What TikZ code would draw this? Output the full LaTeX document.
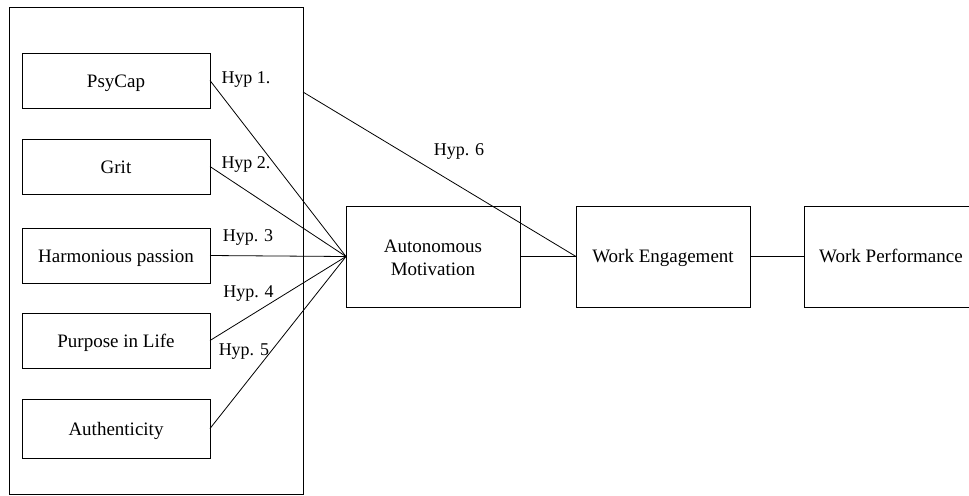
\documentclass[tikz,border=0pt]{standalone}
\usepackage{fontspec}
\setmainfont{Liberation Serif}
\begin{document}
\begin{tikzpicture}[x=0.5pt, y=-0.5pt]
\tikzset{ line width=0.5pt, inner sep=0pt, outer sep=0pt,
  box/.style={draw, minimum width=94pt, minimum height=27.5pt, text height=7pt, text depth=0.5pt, font=\fontsize{9.5}{11}\selectfont},
  bigbox/.style={draw, minimum width=87pt, minimum height=50.5pt, text height=6.5pt, text depth=0.5pt, font=\fontsize{9.5}{11.5}\selectfont},
  hyp/.style={font=\fontsize{9}{11}\selectfont},
}

\useasboundingbox (0,0) rectangle (969,495);
%\draw [lightgray, dashed](0,0) grid[step=50] (969,495);

\node [draw, minimum width=147pt, minimum height=243.5pt] (G) at (156,250.5) {};

\node [box] (PC) at (116,80.5)  {PsyCap};
\node [box] (GR) at (116,166.5) {Grit};
\node [box] (HP) at (116,255.5) {Harmonious passion};
\node [box] (PL) at (116,340.5) {Purpose in Life};
\node [box, minimum height=29.5pt] (AU) at (116,428.5) {Authenticity};

\node [bigbox, text height=19pt, align=center] (AM) at (433,256.5) {Autonomous\\Motivation};
\node [bigbox] (WE) at (663,256.5) {Work Engagement};
% right side is cut off by the page
\node [bigbox, draw=none] (WP) at (891,256.5) {Work Performance};
\draw (WP.north east) -- (WP.north west) -- (WP.south west) -- (WP.south east);

\coordinate (H6) at (303,92);

\draw (PC.east) -- (AM.west);
\draw (GR.east) -- (AM.west);
\draw (HP.east) -- (AM.west);
\draw (PL.east) -- (AM.west);
\draw (AU.east) -- (AM.west);

\draw (H6) -- (WE.west);
\draw (AM) -- (WE);
\draw (WE) -- (WP);

\node [hyp] (L1) at (246,79)    {Hyp 1.};
\node [hyp] (L2) at (246,164.5) {Hyp 2.};
\node [hyp] (L3) at (248,237.5) {Hyp. 3};
\node [hyp] (L4) at (248.5,293.5) {Hyp. 4};
\node [hyp] (L5) at (244,351.5) {Hyp. 5};
\node [hyp] (L6) at (459,151)   {Hyp. 6};
\end{tikzpicture}
\end{document}
